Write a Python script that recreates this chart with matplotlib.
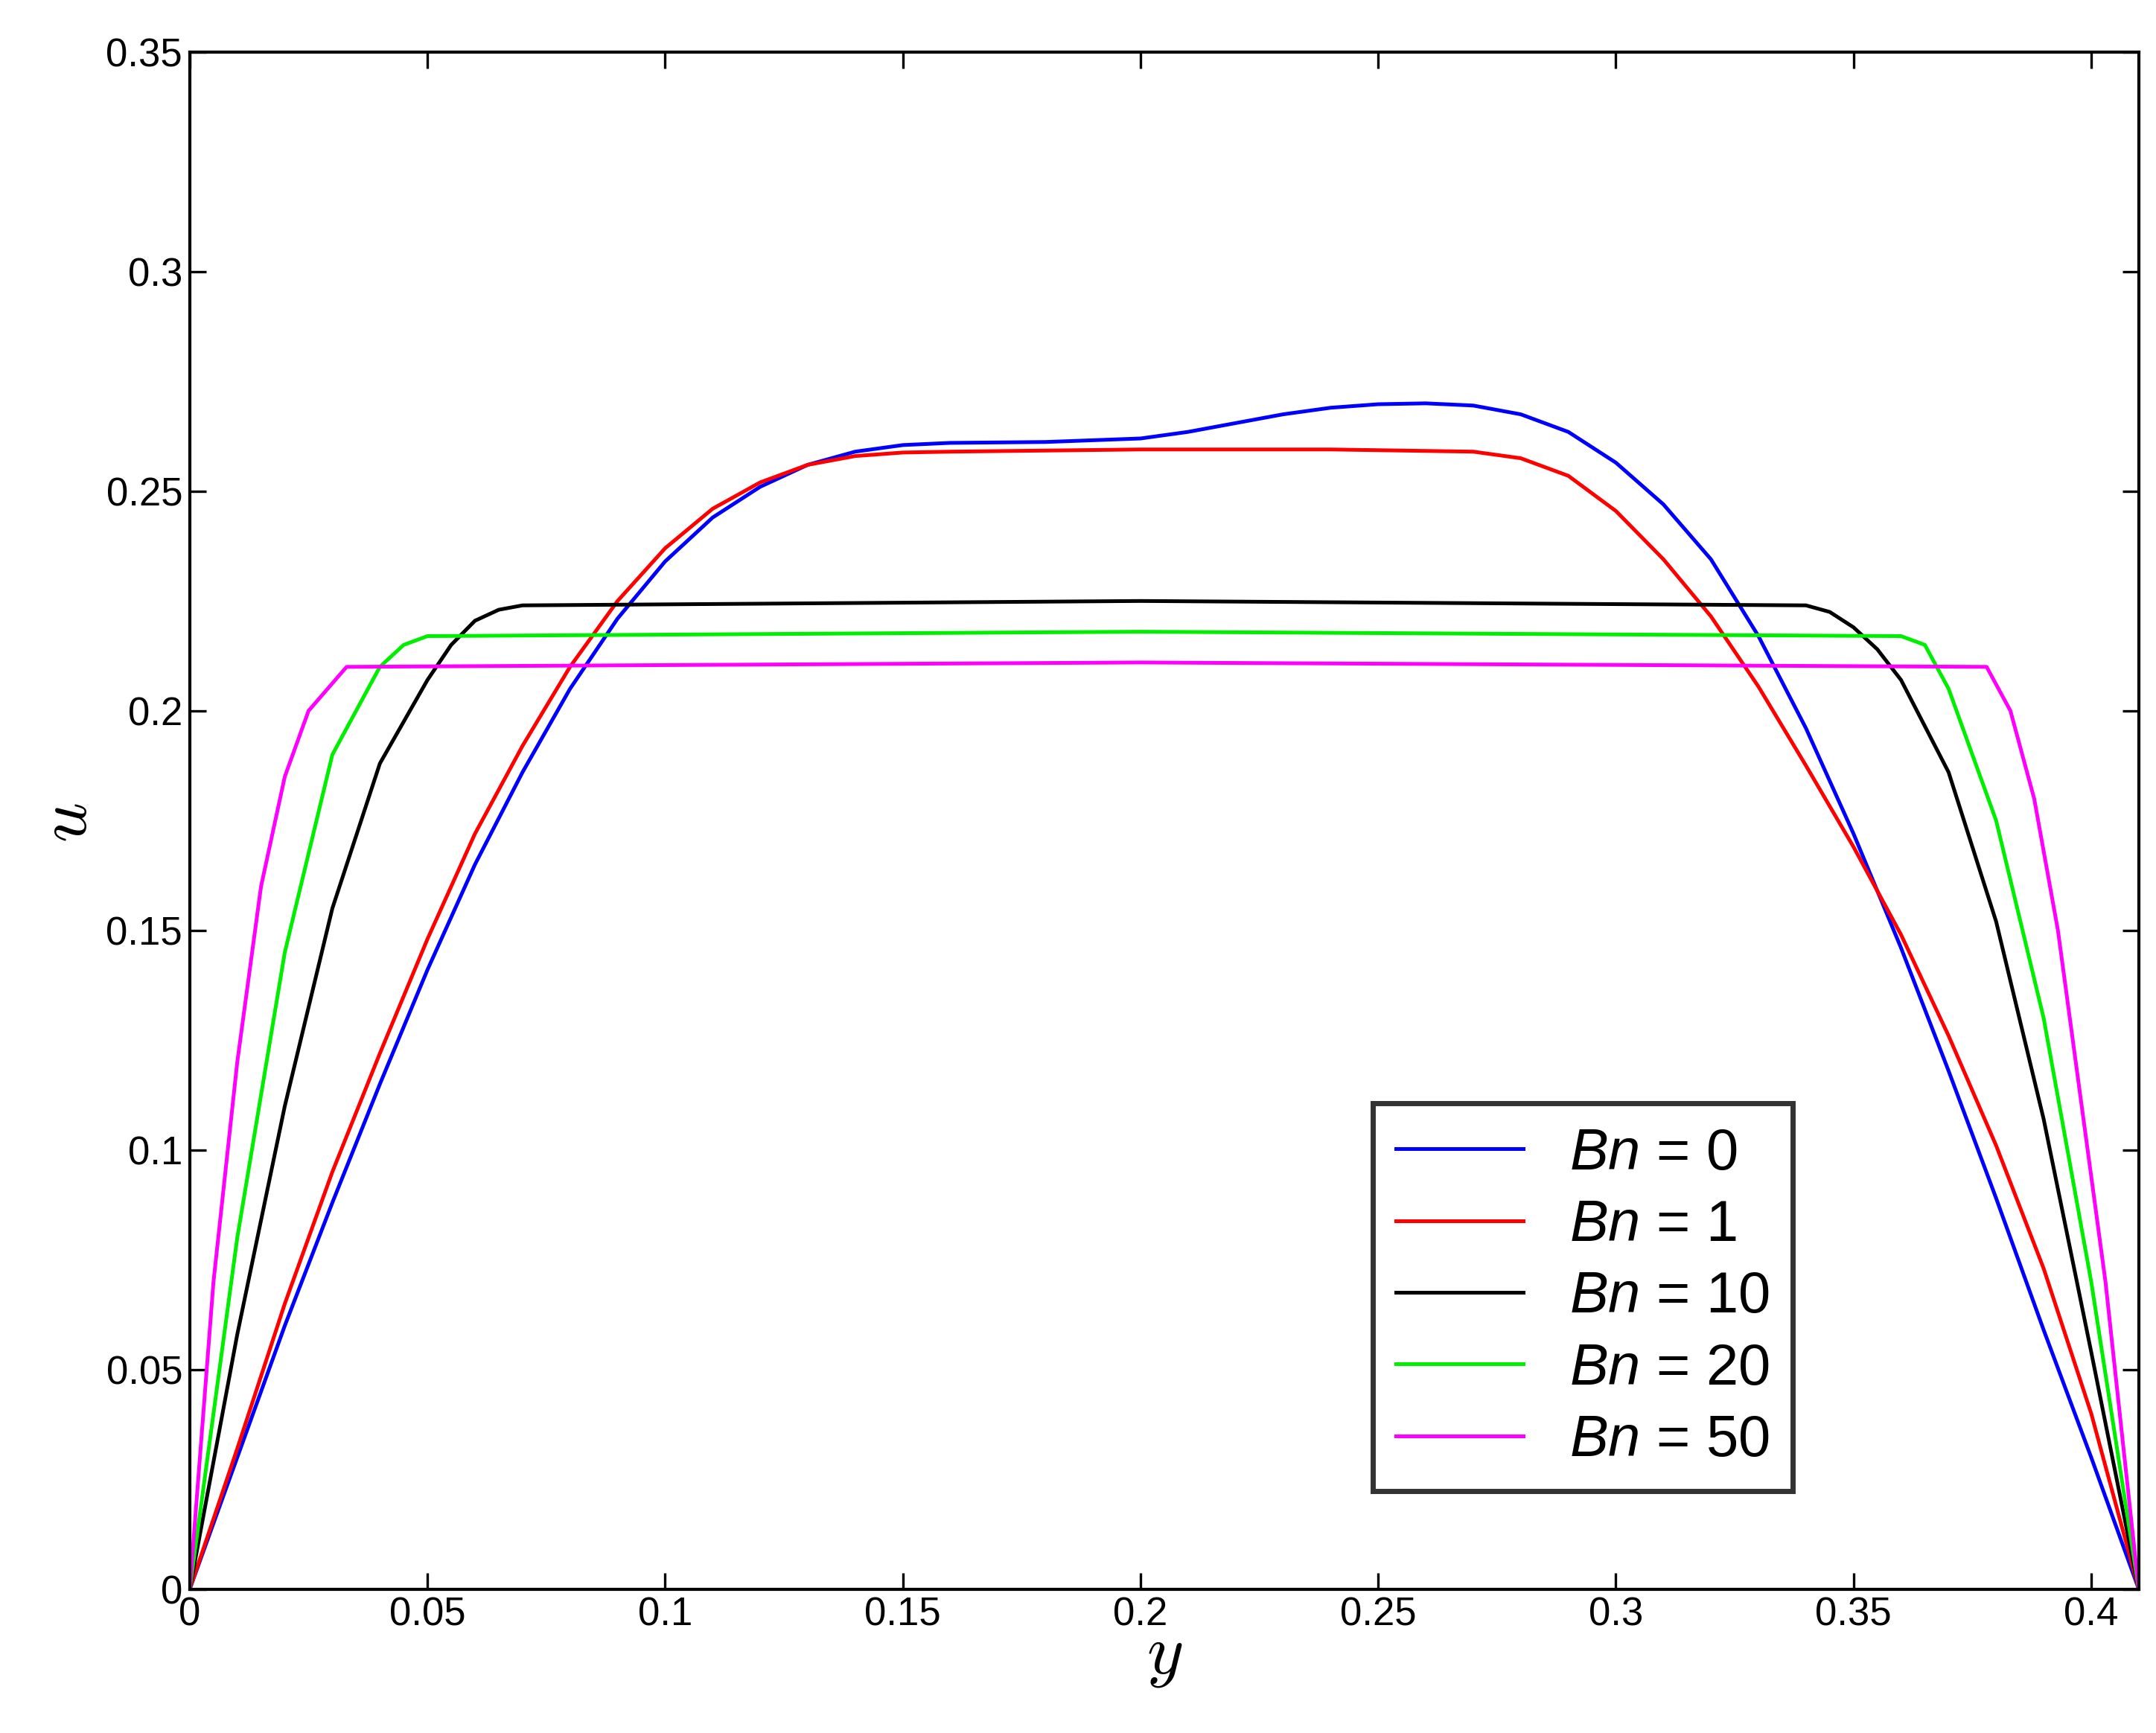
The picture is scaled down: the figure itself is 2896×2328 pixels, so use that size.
import matplotlib
matplotlib.use('Agg')
import matplotlib.pyplot as plt

plt.rcParams['font.family'] = ['Liberation Sans', 'DejaVu Sans']
plt.rcParams['mathtext.fontset'] = 'custom'
plt.rcParams['mathtext.it'] = 'Liberation Sans:italic'
plt.rcParams['mathtext.rm'] = 'Liberation Sans'

# Bn = 0
y0 = [0, 0.01, 0.02, 0.03, 0.04, 0.05, 0.06, 0.07, 0.08, 0.09, 0.1, 0.11, 0.12, 0.13, 0.14, 0.15,
      0.16, 0.18, 0.2, 0.21, 0.22, 0.23, 0.24, 0.25, 0.26, 0.27, 0.28, 0.29, 0.3, 0.31, 0.32,
      0.33, 0.34, 0.35, 0.36, 0.37, 0.38, 0.39, 0.4, 0.41]
u0 = [0, 0.03, 0.06, 0.088, 0.115, 0.141, 0.165, 0.186, 0.205, 0.221, 0.234, 0.244, 0.251, 0.256,
      0.259, 0.2605, 0.261, 0.2612, 0.262, 0.2635, 0.2655, 0.2675, 0.269, 0.2698, 0.270, 0.2695,
      0.2675, 0.2635, 0.2565, 0.247, 0.2345, 0.217, 0.196, 0.172, 0.146, 0.118, 0.089, 0.059, 0.03, 0]
# Bn = 1
y1 = [0, 0.01, 0.02, 0.03, 0.04, 0.05, 0.06, 0.07, 0.08, 0.09, 0.1, 0.11, 0.12, 0.13, 0.14, 0.15,
      0.16, 0.2, 0.24, 0.27, 0.28, 0.29, 0.3, 0.31, 0.32, 0.33, 0.34, 0.35, 0.36, 0.37, 0.38,
      0.39, 0.4, 0.41]
u1 = [0, 0.032, 0.065, 0.095, 0.122, 0.148, 0.172, 0.192, 0.21, 0.225, 0.237, 0.246, 0.252, 0.256,
      0.258, 0.2588, 0.259, 0.2595, 0.2595, 0.259, 0.2575, 0.2535, 0.2455, 0.2345, 0.2215, 0.2055,
      0.1875, 0.169, 0.149, 0.126, 0.101, 0.073, 0.04, 0]
# Bn = 10
y10 = [0, 0.01, 0.02, 0.03, 0.04, 0.05, 0.055, 0.06, 0.065, 0.07, 0.2, 0.34, 0.345, 0.35, 0.355,
       0.36, 0.37, 0.38, 0.39, 0.4, 0.41]
u10 = [0, 0.058, 0.11, 0.155, 0.188, 0.207, 0.215, 0.2205, 0.223, 0.224, 0.225, 0.224, 0.2225,
       0.219, 0.214, 0.207, 0.186, 0.152, 0.107, 0.054, 0]
# Bn = 20
y20 = [0, 0.01, 0.02, 0.03, 0.04, 0.045, 0.05, 0.2, 0.36, 0.365, 0.37, 0.38, 0.39, 0.4, 0.41]
u20 = [0, 0.08, 0.145, 0.19, 0.21, 0.215, 0.217, 0.218, 0.217, 0.215, 0.205, 0.175, 0.13, 0.07, 0]
# Bn = 50
y50 = [0, 0.005, 0.01, 0.015, 0.02, 0.025, 0.033, 0.2, 0.378, 0.383, 0.388, 0.393, 0.398, 0.403, 0.41]
u50 = [0, 0.07, 0.12, 0.16, 0.185, 0.2, 0.21, 0.211, 0.21, 0.2, 0.18, 0.15, 0.11, 0.07, 0]

series = [(y0, u0, 'blue', '0'), (y1, u1, 'red', '1'), (y10, u10, 'black', '10'),
          (y20, u20, '#00ee00', '20'), (y50, u50, 'magenta', '50')]

fig = plt.figure(figsize=(14.48, 11.64), dpi=200)
ax = fig.add_axes([0.088, 0.083, 0.904, 0.887])
for ys, us, c, lab in series:
    ax.plot(ys, us, color=c, lw=1.8, label=r'$Bn$ = ' + lab)

ax.set_xlim(0, 0.41)
ax.set_ylim(0, 0.35)
ax.set_xticks([0, 0.05, 0.1, 0.15, 0.2, 0.25, 0.3, 0.35, 0.4])
ax.set_xticklabels(['0', '0.05', '0.1', '0.15', '0.2', '0.25', '0.3', '0.35', '0.4'])
ax.set_yticks([0, 0.05, 0.1, 0.15, 0.2, 0.25, 0.3, 0.35])
ax.set_yticklabels(['0', '0.05', '0.1', '0.15', '0.2', '0.25', '0.3', '0.35'])
ax.tick_params(direction='in', top=True, right=True, labelsize=19, length=8, width=1.2)
for s in ax.spines.values():
    s.set_linewidth(1.5)

ax.set_xlabel('y', fontfamily='cmmi10', fontsize=34, labelpad=-4)
ax.set_ylabel('u', fontfamily='cmmi10', fontsize=34, labelpad=4)

leg = ax.legend(loc='lower left', bbox_to_anchor=(0.592, 0.045), fontsize=28,
                frameon=True, fancybox=False, edgecolor='black', handlelength=2.2,
                labelspacing=0.3, borderpad=0.4)
leg.get_frame().set_linewidth(2.5)

fig.savefig('out.png', dpi=200)
